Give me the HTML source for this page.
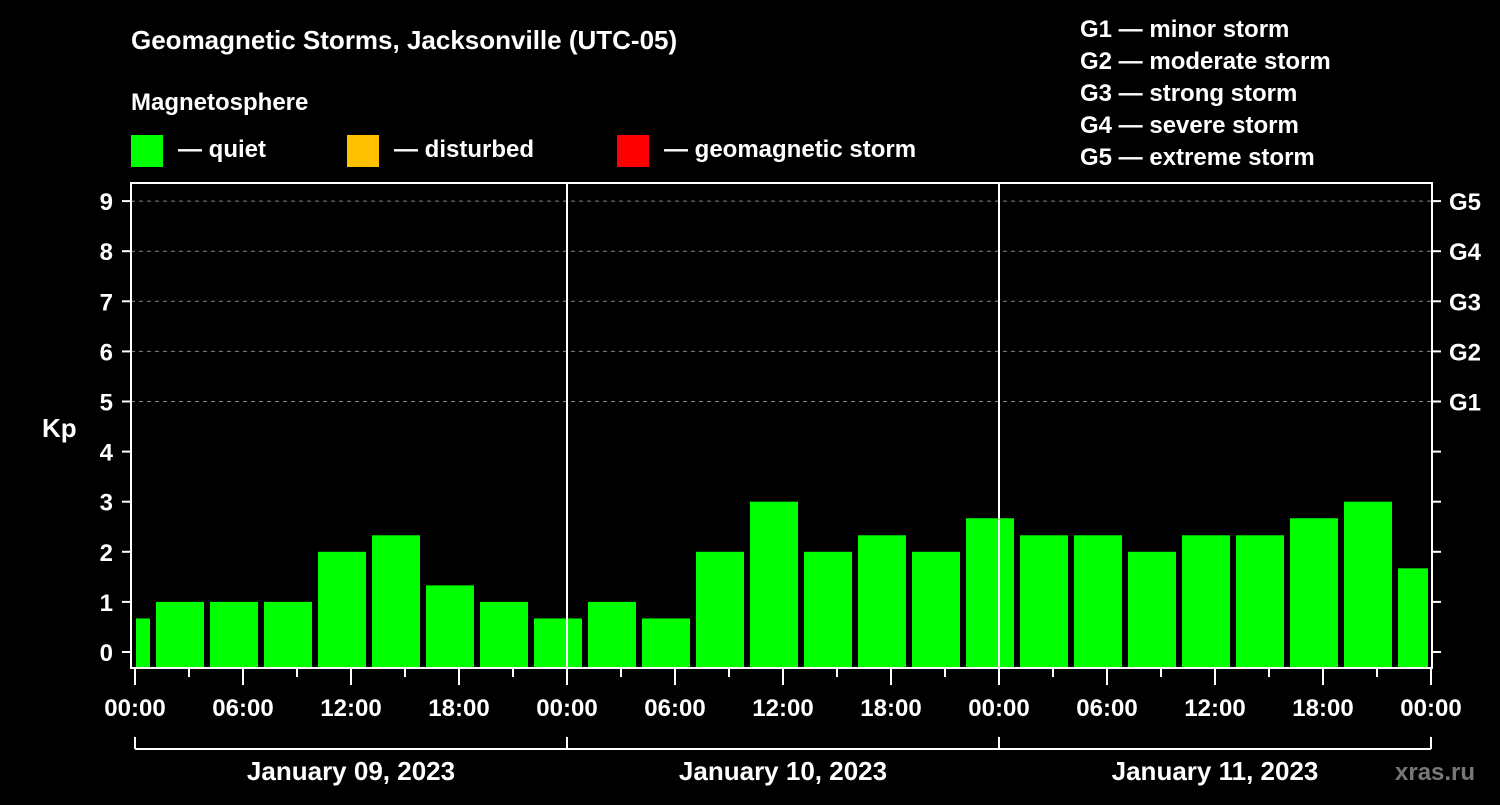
<!DOCTYPE html>
<html><head><meta charset="utf-8"><style>
body{margin:0;background:#000;width:1500px;height:800px;overflow:hidden}
svg text{font-family:"Liberation Sans",Arial,sans-serif;font-weight:bold;fill:#fff}
</style></head><body>
<svg id="c" width="1500" height="800">
<text x="131" y="49" font-size="26">Geomagnetic Storms, Jacksonville (UTC-05)</text>
<text x="131" y="110" font-size="24">Magnetosphere</text>
<g><rect x="131" y="135" width="32" height="32" fill="#00ff00"/><text x="178" y="157" font-size="24">— quiet</text></g>
<g><rect x="347" y="135" width="32" height="32" fill="#ffc000"/><text x="394" y="157" font-size="24">— disturbed</text></g>
<g><rect x="617" y="135" width="32" height="32" fill="#ff0000"/><text x="664" y="157" font-size="24">— geomagnetic storm</text></g>
<g font-size="24">
<text x="1080" y="37">G1 — minor storm</text><text x="1080" y="69">G2 — moderate storm</text><text x="1080" y="101">G3 — strong storm</text><text x="1080" y="133">G4 — severe storm</text><text x="1080" y="165">G5 — extreme storm</text></g>
<text x="42" y="437" font-size="26">Kp</text>
<text x="1395" y="780" font-size="24" fill="#777" style="fill:#777">xras.ru</text>
<g id="grid"></g><g id="bars"></g><g id="axes"></g>
</svg>
<script>
const kpValues=[0.67,1,1,1,2,2.33,1.33,1,0.67,1,0.67,2,3,2,2.33,2,2.67,2.33,2.33,2,2.33,2.33,2.67,3,1.67];
const barStartHours=[-2,1,4,7,10,13,16,19,22,25,28,31,34,37,40,43,46,49,52,55,58,61,64,67,70];
const yTicks=[0,1,2,3,4,5,6,7,8,9];
const gLabels=["G1","G2","G3","G4","G5"];
const dayLabels=["January 09, 2023","January 10, 2023","January 11, 2023"];
const hourLabels=["00:00","06:00","12:00","18:00"];
const NS="http://www.w3.org/2000/svg";
const L=131,R=1432,T=183,B=668;
const x=h=>135+18*h, y=v=>652-50.1*v;
function mk(t,a,p){const e=document.createElementNS(NS,t);for(const k in a)e.setAttribute(k,a[k]);p.appendChild(e);return e;}
const grid=document.getElementById('grid'),bars=document.getElementById('bars'),ax=document.getElementById('axes');
for(let i=5;i<=9;i++){const l=mk('line',{x1:L,x2:R,y1:y(i),y2:y(i),stroke:'#888','stroke-dasharray':'4,4'},grid);

}
kpValues.forEach((v,i)=>{let x0=Math.max(x(barStartHours[i])+3,136),x1=Math.min(x(barStartHours[i]+3)-3,1428);
const c=v>=5?'#ff0000':(v>=4?'#ffc000':'#00ff00');
const r=mk('rect',{x:x0,y:y(v),width:x1-x0,height:B-y(v),fill:c},bars);

});
mk('rect',{x:L,y:T,width:R-L,height:B-T,fill:'none',stroke:'#fff','stroke-width':2},ax);
[1,2].forEach(d=>mk('line',{x1:x(24*d),x2:x(24*d),y1:T,y2:B,stroke:'#fff','stroke-width':2},ax));
yTicks.forEach(v=>{mk('line',{x1:122,x2:L,y1:y(v),y2:y(v),stroke:'#fff','stroke-width':2},ax);
mk('line',{x1:R,x2:1441,y1:y(v),y2:y(v),stroke:'#fff','stroke-width':2},ax);
const t=mk('text',{x:113,y:y(v)+9,'font-size':24,'text-anchor':'end'},ax);t.textContent=v;

});
gLabels.forEach((g,i)=>{const t=mk('text',{x:1449,y:y(5+i)+9,'font-size':24},ax);t.textContent=g;

});
for(let h=0;h<=72;h+=3){const maj=h%6==0;mk('line',{x1:x(h),x2:x(h),y1:B,y2:maj?685:677,stroke:'#fff','stroke-width':2},ax);
if(maj){const t=mk('text',{x:x(h),y:716,'font-size':24,'text-anchor':'middle'},ax);t.textContent=hourLabels[(h/6)%4];

}}
mk('line',{x1:x(0),x2:x(72),y1:749,y2:749,stroke:'#fff','stroke-width':2},ax);
for(let d=0;d<=3;d++)mk('line',{x1:x(24*d),x2:x(24*d),y1:737,y2:749,stroke:'#fff','stroke-width':2},ax);
dayLabels.forEach((s,d)=>{const t=mk('text',{x:x(24*d+12),y:780,'font-size':26,'text-anchor':'middle'},ax);t.textContent=s;

});
</script>
</body></html>
